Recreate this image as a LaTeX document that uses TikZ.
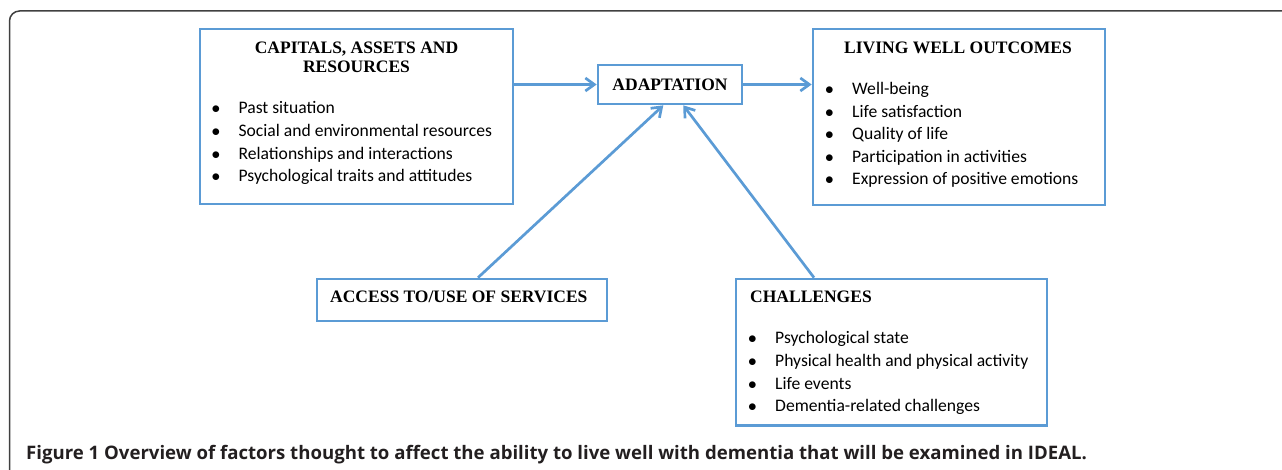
\documentclass[tikz,border=0pt]{standalone}
\usepackage{fontspec}
\setmainfont{Liberation Serif}
\newfontfamily\calibri{Carlito}
\newfontfamily\figfont{Open Sans}
\usetikzlibrary{arrows.meta}
\definecolor{boxblue}{RGB}{91,155,213}
\definecolor{framegray}{RGB}{64,64,64}
\definecolor{capgray}{RGB}{35,31,32}
\newcommand{\itm}{\makebox[27pt][l]{$\bullet$}}

\begin{document}
\begin{tikzpicture}[x=1pt, y=-1pt,
    blbox/.style={draw=boxblue, line width=2.7pt, inner sep=0pt},
    ttl/.style={font=\bfseries\fontsize{17.5}{19.4}\selectfont, inner sep=0pt, align=center},
    lst/.style={font=\calibri\fontsize{17.6}{22.6}\selectfont, inner sep=0pt, align=left, anchor=base west},
    link/.style={draw=boxblue, line width=2.7pt, -{Straight Barb[length=9pt,width=13pt]}}]
    \useasboundingbox (0,0) rectangle (1282,470);
    \draw[framegray, line width=1.5pt, rounded corners=10pt] (9.5,470) -- (9.5,11) -- (1282,11);

    % boxes
    \node[blbox, minimum width=313pt, minimum height=175pt] (cap) at (356.5,116.5) {};
    \node[blbox, ttl, minimum width=144pt, minimum height=39pt] (adapt) at (670,84.5) {ADAPTATION};
    \node[blbox, minimum width=292pt, minimum height=176pt] (live) at (959,117) {};
    \node[blbox, minimum width=290pt, minimum height=42pt] (acc) at (462,300) {};
    \node[blbox, minimum width=311pt, minimum height=146.5pt] (chal) at (891.5,352.25) {};

    % titles (multi-line nodes sit on their last baseline)
    \node[ttl, anchor=base] (capttl) at (356.5,72.7) {CAPITALS, ASSETS AND\\RESOURCES};
    \node[ttl, anchor=base] (livettl) at (958,53.3) {LIVING WELL OUTCOMES};
    \node[ttl, anchor=base west] (accttl) at (330,302.7) {ACCESS TO/USE OF SERVICES};
    \node[ttl, anchor=base west] (chalttl) at (750,302.7) {CHALLENGES};

    % lists
    \node[lst] (caplst) at (211.4,181.7) {\itm Past situation\\
        \itm Social and environmental resources\\
        \itm Relationships and interactions\\
        \itm Psychological traits and attitudes};
    \node[lst] (livelst) at (825,185) {\itm Well-being\\
        \itm Life satisfaction\\
        \itm Quality of life\\
        \itm Participation in activities\\
        \itm Expression of positive emotions};
    \node[lst] (challst) at (748,411.7) {\itm Psychological state\\
        \itm Physical health and physical activity\\
        \itm Life events\\
        \itm Dementia-related challenges};

    % arrows
    \draw[link] (cap.east |- adapt.west) -- (adapt.west);
    \draw[link] (adapt.east) -- (live.west |- adapt.east);
    \draw[link] ([xshift=16pt]acc.north) -- ([xshift=-6.7pt]adapt.south);
    \draw[link] ([xshift=-77.5pt]chal.north) -- ([xshift=13.3pt]adapt.south);

    \node[anchor=base west, inner sep=0pt, text=capgray,
        font=\figfont\bfseries\fontsize{18.6}{20}\selectfont] (figcap) at (26,459.5)
        {Figure 1 Overview of factors thought to affect the ability to live well with dementia that will be examined in IDEAL.};
\end{tikzpicture}
\end{document}
